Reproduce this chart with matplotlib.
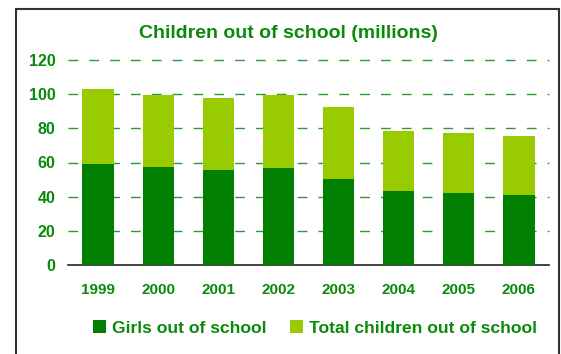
import matplotlib
matplotlib.use("Agg")
import matplotlib.pyplot as plt
import matplotlib.patches as patches
import numpy as np

years = ["1999", "2000", "2001", "2002", "2003", "2004", "2005", "2006"]
girls = [59.3, 57.4, 55.6, 56.8, 50.4, 43.3, 42.2, 41.0]
total = [103.0, 99.5, 97.8, 99.5, 92.5, 78.5, 77.3, 75.5]
yticks = [0, 20, 40, 60, 80, 100, 120]

dark = "#007f00"
light = "#99cc00"
txt = "#0a8a0a"

plt.rcParams["font.family"] = ["Liberation Sans", "DejaVu Sans"]
plt.rcParams["font.weight"] = "bold"

fig = plt.figure(figsize=(5.61, 3.54), dpi=100)
ax = fig.add_axes([68 / 561, 1 - 265 / 354, (549 - 68) / 561, (265 - 60) / 354])

x = np.arange(len(years))
rest = [t - g for t, g in zip(total, girls)]
ax.bar(x, girls, width=0.52, color=dark, label="Girls out of school", zorder=3)
ax.bar(x, rest, bottom=girls, width=0.52, color=light, label="Total children out of school", zorder=3)

for v in yticks[1:]:
    ax.axhline(v, color="#2e9a2e", lw=1, dashes=(7, 8), zorder=1, clip_on=False)

ax.set_xlim(-0.5, 7.5)
ax.set_ylim(0, 120)
ax.set_yticks(yticks)
ax.set_xticks(x)
ax.set_xticklabels(years)
for s in ["top", "right", "left"]:
    ax.spines[s].set_visible(False)
ax.spines["bottom"].set_color("#222222")
ax.spines["bottom"].set_linewidth(1.2)
ax.tick_params(axis="both", length=0, colors=txt, labelsize=11)
ax.tick_params(axis="y", labelsize=11.5, pad=9)
ax.tick_params(axis="x", pad=13)
for lbl in ax.get_xticklabels() + ax.get_yticklabels():
    lbl.set_fontweight("bold")

fig.text(288 / 561, 1 - 33 / 354, "Children out of school (millions)", ha="center", va="center",
         color=txt, fontsize=14, fontweight="bold")

leg = fig.legend(loc="center", bbox_to_anchor=(315 / 561, 1 - 328 / 354), ncol=2, frameon=False,
                 handlelength=0.75, handleheight=0.75, handletextpad=0.35, columnspacing=1.3,
                 prop={"weight": "bold", "size": 12.6})
for t in leg.get_texts():
    t.set_color(txt)

# frame around the chart
fig.patches.append(patches.Rectangle((16 / 561, -0.05), (559 - 16) / 561, 1 - 9 / 354 + 0.05,
                                     transform=fig.transFigure, fill=False, edgecolor="#333333", lw=1.5))

fig.savefig("out.png", dpi=100)
